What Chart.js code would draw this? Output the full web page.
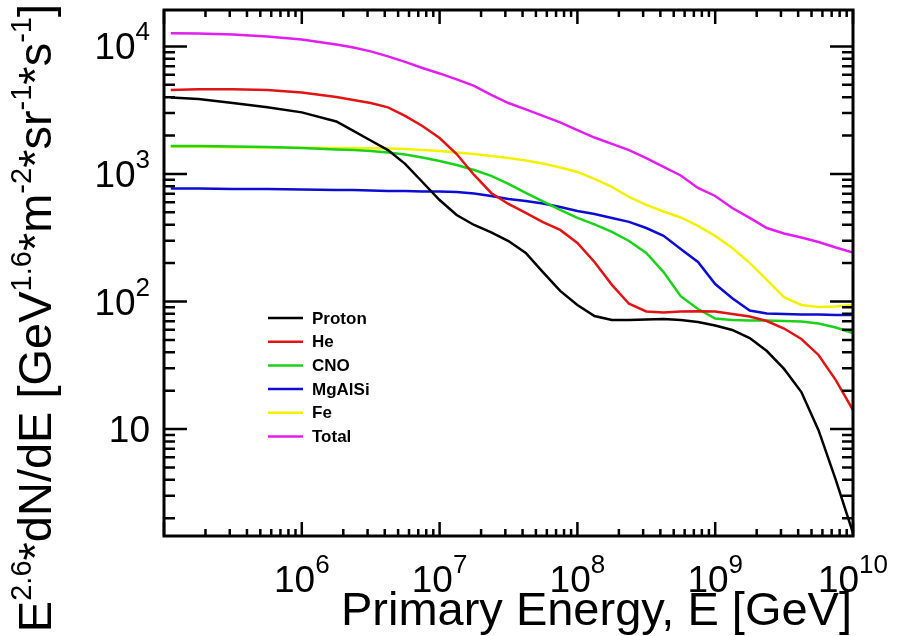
<!DOCTYPE html>
<html>
<head>
<meta charset="utf-8">
<script src="https://cdn.jsdelivr.net/npm/chart.js@4.4.1/dist/chart.umd.min.js"></script>
<style>
  body { margin: 0; background: #fff; }
  canvas { display: block; }
</style>
</head>
<body>
<canvas id="chart" width="902" height="636"></canvas>
<script>
// primary energy in GeV
const energy = [1.12e5, 1.78e5, 3.16e5, 5.62e5, 1e6, 1.78e6, 2.37e6, 3.16e6, 4.22e6, 5.62e6, 7.5e6,
  1e7, 1.33e7, 1.78e7, 2.37e7, 3.16e7, 4.22e7, 5.62e7, 7.5e7,
  1e8, 1.33e8, 1.78e8, 2.37e8, 3.16e8, 4.22e8, 5.62e8, 7.5e8,
  1e9, 1.33e9, 1.78e9, 2.37e9, 3.16e9, 4.22e9, 5.62e9, 7.5e9, 1e10];

// E^2.6 dN/dE for each component
const proton = [3980, 3870, 3600, 3330, 3040, 2580, 2180, 1830, 1540, 1200, 865, 625, 477, 398, 348, 298, 240, 170,
  121, 94, 77, 71.6, 71.6, 72.3, 73, 71.6, 69, 64.8, 59.8, 51.7, 40.9, 29.6, 19.5, 9.8, 4.0, 1.53];
const he = [4560, 4615, 4615, 4560, 4355, 4015, 3805, 3600, 3325, 2850, 2380, 1915, 1434, 982, 710, 582, 495, 420,
  364, 288, 204, 135, 96, 83.5, 82, 83.5, 84, 83.5, 79.8, 76.3, 70.3, 61.4, 50.8, 38.1, 24.2, 14.1];
const cno = [1658, 1658, 1643, 1629, 1600, 1557, 1543, 1515, 1474, 1422, 1347, 1264, 1176, 1075, 965, 835, 710, 609,
  522, 452, 402, 351, 298, 240, 170, 110, 87.3, 73.6, 71.6, 71, 71, 70.3, 69.7, 67.2, 62.5, 56.6];
const mgalsi = [770, 770, 762, 762, 755, 749, 749, 743, 736, 736, 730, 730, 723, 703, 672, 637, 614, 587,
  551, 513, 486, 452, 421, 377, 327, 258, 204, 137, 106, 84.9, 80.5, 79.8, 79.1, 79.1, 78.4, 78.4];
const fe = [1637, 1632, 1623, 1614, 1605, 1600, 1600, 1594, 1585, 1571, 1543, 1515, 1474, 1436, 1385, 1336, 1277, 1209,
  1125, 1037, 914, 791, 660, 572, 508, 456, 391, 327, 263, 201, 148, 108, 94, 90.6, 91.4, 94];
const total = [12700, 12650, 12420, 11980, 11350, 10370, 9820, 9140, 8350, 7560, 6780, 6140, 5510, 4900, 4170, 3600, 3210, 2850,
  2540, 2210, 1930, 1720, 1540, 1330, 1135, 973, 776, 672, 541, 452, 377, 341, 318, 293, 265, 242];

const seriesNames = ["Proton", "He", "CNO", "MgAlSi", "Fe", "Total"];
const seriesColors = ["#000000", "#e01414", "#19d219", "#0c0cd2", "#f2f200", "#e01ef0"];

// decades that get a tick label
const xLabelExp = [6, 7, 8, 9, 10];
const yLabelExp = [1, 2, 3, 4];

const FONT = '"Liberation Sans", Arial, Helvetica, sans-serif';

function toPoints(values) {
  return energy.map((e, i) => ({ x: e, y: values[i] }));
}

// 1..9 x 10^n ticks like ROOT
function logTicks(scale) {
  const ticks = [];
  const lo = Math.floor(Math.log10(scale.min));
  const hi = Math.ceil(Math.log10(scale.max));
  for (let e = lo; e <= hi; e++) {
    for (let m = 1; m < 10; m++) {
      const v = m * Math.pow(10, e);
      if (v >= scale.min * 0.999 && v <= scale.max * 1.001) {
        ticks.push({ value: v, major: m === 1 });
      }
    }
  }
  scale.ticks = ticks;
}

// text with superscripts, parts = [[text, isSup], ...]
function richWidth(ctx, parts, size, supSize) {
  let w = 0;
  for (const [t, sup] of parts) {
    ctx.font = (sup ? supSize : size) + "px " + FONT;
    w += ctx.measureText(t).width;
  }
  return w;
}

function drawRich(ctx, parts, x, y, size, supSize, raise) {
  let cx = x;
  for (const [t, sup] of parts) {
    ctx.font = (sup ? supSize : size) + "px " + FONT;
    ctx.fillText(t, cx, sup ? y - raise : y);
    cx += ctx.measureText(t).width;
  }
}

function powParts(exp) {
  return exp === 1 ? [["10", false]] : [["10", false], [String(exp), true]];
}

const rootStyle = {
  id: "rootStyle",
  afterDraw(chart) {
    const ctx = chart.ctx;
    const a = chart.chartArea;
    const xs = chart.scales.x;
    const ys = chart.scales.y;
    ctx.save();
    ctx.strokeStyle = "#000";
    ctx.fillStyle = "#000";
    ctx.lineWidth = 2.5;
    ctx.beginPath();
    for (const t of xs.ticks) {
      const px = xs.getPixelForValue(t.value);
      const len = t.major ? 14 : 7;
      ctx.moveTo(px, a.bottom); ctx.lineTo(px, a.bottom - len);
      ctx.moveTo(px, a.top); ctx.lineTo(px, a.top + len);
    }
    for (const t of ys.ticks) {
      const py = ys.getPixelForValue(t.value);
      const len = t.major ? 23 : 11;
      ctx.moveTo(a.left, py); ctx.lineTo(a.left + len, py);
      ctx.moveTo(a.right, py); ctx.lineTo(a.right - len, py);
    }
    ctx.stroke();

    // frame
    ctx.lineWidth = 3;
    ctx.strokeRect(a.left, a.top, a.right - a.left, a.bottom - a.top);

    // tick labels
    ctx.textBaseline = "alphabetic";
    ctx.textAlign = "left";
    for (const e of xLabelExp) {
      const parts = powParts(e);
      const px = xs.getPixelForValue(Math.pow(10, e));
      const w = richWidth(ctx, parts, 37, 26);
      drawRich(ctx, parts, px - w / 2, 592, 37, 26, 19);
    }
    for (const e of yLabelExp) {
      const parts = powParts(e);
      const py = ys.getPixelForValue(Math.pow(10, e));
      const w = richWidth(ctx, parts, 37, 26);
      drawRich(ctx, parts, 150 - w, py + 13, 37, 26, 19);
    }

    // axis titles
    const xTitle = [["Primary Energy, E [GeV]", false]];
    const xw = richWidth(ctx, xTitle, 47, 29);
    drawRich(ctx, xTitle, 852 - xw, 625, 47, 29, 20);

    const yTitle = [["E", false], ["2.6", true], ["*dN/dE [GeV", false], ["1.6", true], ["*m", false],
      ["-2", true], ["*sr", false], ["-1", true], ["*s", false], ["-1", true], ["]", false]];
    const yw = richWidth(ctx, yTitle, 47, 29);
    ctx.save();
    ctx.translate(51, 4);
    ctx.rotate(-Math.PI / 2);
    drawRich(ctx, yTitle, -yw, 0, 47, 29, 20);
    ctx.restore();

    // legend
    chart.data.datasets.forEach((ds, i) => {
      const ly = 318 + i * 23.7;
      ctx.strokeStyle = ds.borderColor;
      ctx.lineWidth = 2.5;
      ctx.beginPath();
      ctx.moveTo(268, ly);
      ctx.lineTo(303, ly);
      ctx.stroke();
      ctx.font = "bold 17px " + FONT;
      ctx.textBaseline = "middle";
      ctx.fillStyle = "#000";
      ctx.fillText(ds.label, 312, ly + 1);
    });
    ctx.restore();
  },
};

const hiddenAxis = {
  type: "logarithmic",
  display: true,
  grid: { display: false, drawTicks: false },
  border: { display: false },
  ticks: { display: false },
  afterBuildTicks: logTicks,
};

new Chart(document.getElementById("chart"), {
  type: "line",
  data: {
    datasets: [proton, he, cno, mgalsi, fe, total].map((vals, i) => ({
      label: seriesNames[i],
      data: toPoints(vals),
      borderColor: seriesColors[i],
      borderWidth: 2.5,
      pointRadius: 0,
      tension: 0,
      fill: false,
    })),
  },
  options: {
    responsive: false,
    animation: false,
    devicePixelRatio: 1,
    layout: {
      autoPadding: false,
      padding: { left: 164, right: 49, top: 10, bottom: 100 },
    },
    scales: {
      x: Object.assign({}, hiddenAxis, {
        min: 1e5, max: 1e10,
        afterFit: (s) => { s.height = 0; },
      }),
      y: Object.assign({}, hiddenAxis, {
        min: 1.45, max: 1.93e4,
        afterFit: (s) => { s.width = 0; },
      }),
    },
    plugins: {
      legend: { display: false },
      tooltip: { enabled: false },
    },
  },
  plugins: [rootStyle],
});
</script>
</body>
</html>
